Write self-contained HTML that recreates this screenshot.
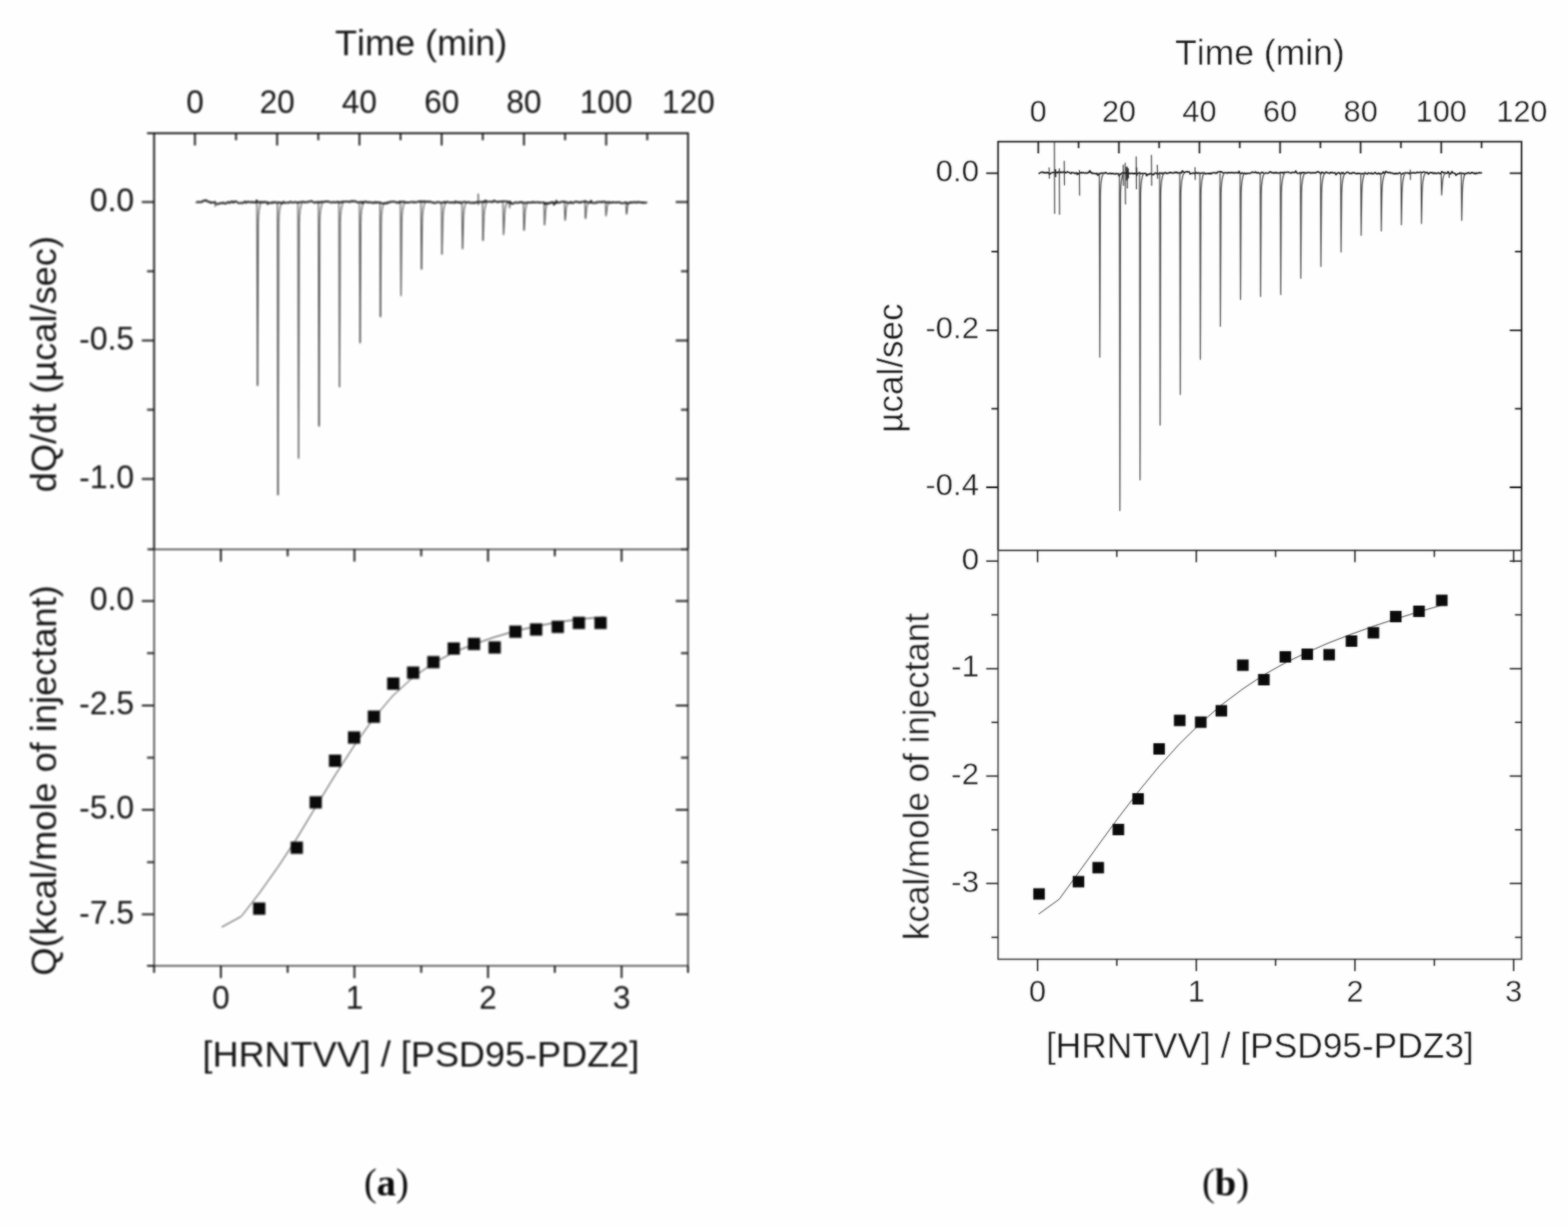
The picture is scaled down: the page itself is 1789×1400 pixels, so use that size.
<!DOCTYPE html>
<html lang="en">
<head>
<meta charset="utf-8">
<title>ITC titration of HRNTVV into PSD95-PDZ2 and PSD95-PDZ3</title>
<style>
html,body{margin:0;padding:0;background:#fff;}
body{width:1789px;height:1400px;overflow:hidden;position:relative;}
svg{display:block;position:absolute;left:0;top:0;}
svg text{font-family:"Liberation Sans",sans-serif;fill:#161616;font-kerning:none;}
#plotB text{stroke:#fefefe;stroke-width:0.45px;}
svg text.cap{font-family:"Liberation Serif",serif;fill:#0c0c0c;stroke:none;font-kerning:auto;}
</style>
</head>
<body>
<svg width="1789" height="1400" viewBox="0 0 1789 1400">
<defs>
<filter id="softB" filterUnits="userSpaceOnUse" x="940" y="0" width="849" height="1400" color-interpolation-filters="sRGB">
<feGaussianBlur in="SourceGraphic" stdDeviation="1" result="b"/>
<feComposite in="b" in2="SourceGraphic" operator="arithmetic" k1="0" k2="0.62" k3="0.38" k4="0"/>
</filter>
</defs>
<rect width="1789" height="1400" fill="#fefefe"/>
<g id="plotA" style="filter:blur(1.15px)">
<path d="M175.8 626.7V151.9H785.0V626.7" stroke="#101010" stroke-width="2.0" fill="none"/>
<path d="M175.8 626.7V1102.0H785.0V626.7M175.8 626.7H785.0" stroke="#2a2a2a" stroke-width="1.6" fill="none"/>
<path d="M222.4 151.9L222.4 165.9M269.3 151.9L269.3 159.9M316.2 151.9L316.2 165.9M363.2 151.9L363.2 159.9M410.1 151.9L410.1 165.9M457 151.9L457 159.9M503.9 151.9L503.9 165.9M550.8 151.9L550.8 159.9M597.8 151.9L597.8 165.9M644.7 151.9L644.7 159.9M691.6 151.9L691.6 165.9M738.5 151.9L738.5 159.9M167.8 151.9L175.8 151.9M161.8 230.6L175.8 230.6M771 230.6L785 230.6M167.8 309.6L175.8 309.6M777 309.6L785 309.6M161.8 388.5L175.8 388.5M771 388.5L785 388.5M167.8 467.5L175.8 467.5M777 467.5L785 467.5M161.8 546.4L175.8 546.4M771 546.4L785 546.4M168.3 626.7L175.8 626.7M777 626.7L785 626.7M252 626.7L252 640.7M252 1102L252 1116M328.2 626.7L328.2 634.7M328.2 1102L328.2 1110M404.4 626.7L404.4 640.7M404.4 1102L404.4 1116M480.6 626.7L480.6 634.7M480.6 1102L480.6 1110M556.8 626.7L556.8 640.7M556.8 1102L556.8 1116M633 626.7L633 634.7M633 1102L633 1110M709.2 626.7L709.2 640.7M709.2 1102L709.2 1116M175.8 1102L175.8 1110M785 1102L785 1110M161.8 685.7L175.8 685.7M771 685.7L785 685.7M167.8 745.3L175.8 745.3M777 745.3L785 745.3M161.8 804.9L175.8 804.9M771 804.9L785 804.9M167.8 864.5L175.8 864.5M777 864.5L785 864.5M161.8 924.1L175.8 924.1M771 924.1L785 924.1M167.8 983.7L175.8 983.7M777 983.7L785 983.7M161.8 1043.3L175.8 1043.3M771 1043.3L785 1043.3M167.8 1102L175.8 1102" stroke="#101010" stroke-width="2" fill="none"/>
<text x="222.4" y="129.3" font-size="36" text-anchor="middle">0</text>
<text x="316.2" y="129.3" font-size="36" text-anchor="middle">20</text>
<text x="410.1" y="129.3" font-size="36" text-anchor="middle">40</text>
<text x="503.9" y="129.3" font-size="36" text-anchor="middle">60</text>
<text x="597.8" y="129.3" font-size="36" text-anchor="middle">80</text>
<text x="691.6" y="129.3" font-size="36" text-anchor="middle">100</text>
<text x="785.4" y="129.3" font-size="36" text-anchor="middle">120</text>
<text x="153" y="240.9" font-size="36.4" text-anchor="end">0.0</text>
<text x="153" y="398.8" font-size="36.4" text-anchor="end">-0.5</text>
<text x="153" y="556.7" font-size="36.4" text-anchor="end">-1.0</text>
<text x="153" y="696" font-size="36.4" text-anchor="end">0.0</text>
<text x="153" y="815.2" font-size="36.4" text-anchor="end">-2.5</text>
<text x="153" y="934.4" font-size="36.4" text-anchor="end">-5.0</text>
<text x="153" y="1053.6" font-size="36.4" text-anchor="end">-7.5</text>
<text x="252" y="1151.4" font-size="36" text-anchor="middle">0</text>
<text x="404.4" y="1151.4" font-size="36" text-anchor="middle">1</text>
<text x="556.8" y="1151.4" font-size="36" text-anchor="middle">2</text>
<text x="709.2" y="1151.4" font-size="36" text-anchor="middle">3</text>
<text x="480.5" y="62.6" font-size="41.15" text-anchor="middle">Time (min)</text>
<text x="480.2" y="1216.5" font-size="41.15" text-anchor="middle">[HRNTVV] / [PSD95-PDZ2]</text>
<text x="64.2" y="415.5" font-size="41.3" text-anchor="middle" transform="rotate(-90 64.2 415.5)">dQ/dt (µcal/sec)</text>
<text x="64" y="890.5" font-size="41.3" text-anchor="middle" transform="rotate(-90 64 890.5)">Q(kcal/mole of injectant)</text>
<path d="M223.5 230.84 L224.4 230.76 L225.3 230.56 L226.2 230.04 L227.1 230.62 L228 230.87 L228.9 230.51 L229.8 229.91 L230.7 230.55 L231.6 229.40 L232.5 228.59 L233.4 229.07 L234.3 229.01 L235.2 228.29 L236.1 229.54 L237 229.59 L237.9 230.52 L238.8 230.17 L239.7 230.54 L240.6 231.61 L241.5 230.79 L242.4 231.24 L243.3 231.08 L244.2 230.77 L245.1 230.99 L246 232.01 L246.9 232.37 L247.8 232.62 L248.7 232.89 L249.6 232.76 L250.5 231.70 L251.4 231.70 L252.3 231.90 L253.2 232.09 L254.1 231.25 L255 231.18 L255.9 232.10 L256.8 232.37 L257.7 232.32 L258.6 231.25 L259.5 230.86 L260.4 230.41 L261.3 231.37 L262.2 231.65 L263.1 230.55 L264 229.90 L264.9 229.74 L265.8 231.15 L266.7 231.08 L267.6 229.93 L268.5 229.57 L269.4 230.14 L270.3 230.42 L271.2 231.10 L272.1 231.67 L273 231.88 L273.9 231.70 L274.8 231.44 L275.7 231.34 L276.6 231.93 L277.5 231.30 L278.4 231.14 L279.3 229.73 L280.2 230.68 L281.1 231.45 L282 230.52 L282.9 229.95 L283.8 230.31 L284.7 230.66 L285.6 231.01 L286.5 230.71 L287.4 230.08 L288.3 231.13 L289.2 230.81 L290.1 230.57 L291 230.97 L291.9 231.35 L292.8 228.53 L293.7 229.68 L294.6 230.59 L295.5 230.94 L296.4 231.31 L297.3 230.16 L298.2 230.30 L299.1 230.87 L300 231.14 L300.9 230.17 L301.8 231.04 L302.7 230.42 L303.6 230.31 L304.5 230.67 L305.4 232.87 L306.3 231.19 L307.2 231.38 L308.1 231.62 L309 231.45 L309.9 231.75 L310.8 230.57 L311.7 231.23 L312.6 231.27 L313.5 230.57 L314.4 230.36 L315.3 231.11 L316.2 231.79 L317.1 230.91 L318 230.82 L318.9 231.18 L319.8 230.97 L320.7 231.92 L321.6 232.44 L322.5 231.40 L323.4 229.99 L324.3 231.32 L325.2 231.61 L326.1 231.29 L327 231.15 L327.9 231.05 L328.8 231.32 L329.7 231.38 L330.6 230.30 L331.5 230.19 L332.4 230.44 L333.3 231.15 L334.2 231.27 L335.1 230.93 L336 230.83 L336.9 230.31 L337.8 230.71 L338.7 231.11 L339.6 230.97 L340.5 231.09 L341.4 231.17 L342.3 230.33 L343.2 230.59 L344.1 230.59 L345 230.38 L345.9 230.25 L346.8 230.21 L347.7 231.03 L348.6 230.97 L349.5 230.83 L350.4 230.06 L351.3 230.51 L352.2 230.56 L353.1 230.03 L354 229.61 L354.9 229.34 L355.8 229.67 L356.7 230.41 L357.6 230.34 L358.5 231.26 L359.4 231.28 L360.3 230.89 L361.2 230.29 L362.1 231.17 L363 230.86 L363.9 230.23 L364.8 230.79 L365.7 231.00 L366.6 230.11 L367.5 230.34 L368.4 230.11 L369.3 230.53 L370.2 230.33 L371.1 229.72 L372 230.17 L372.9 229.68 L373.8 229.88 L374.7 230.24 L375.6 230.08 L376.5 230.49 L377.4 230.99 L378.3 231.32 L379.2 230.77 L380.1 230.42 L381 230.49 L381.9 231.00 L382.8 231.03 L383.7 230.66 L384.6 230.15 L385.5 230.72 L386.4 230.32 L387.3 230.81 L388.2 230.92 L389.1 231.10 L390 229.99 L390.9 230.61 L391.8 230.00 L392.7 230.21 L393.6 230.06 L394.5 229.81 L395.4 230.02 L396.3 230.13 L397.2 230.27 L398.1 229.86 L399 230.71 L399.9 230.03 L400.8 229.57 L401.7 229.21 L402.6 230.16 L403.5 229.62 L404.4 229.70 L405.3 229.43 L406.2 229.98 L407.1 230.80 L408 230.59 L408.9 230.97 L409.8 230.96 L410.7 230.70 L411.6 230.18 L412.5 230.35 L413.4 232.07 L414.3 230.41 L415.2 230.85 L416.1 230.29 L417 229.75 L417.9 230.84 L418.8 230.71 L419.7 230.32 L420.6 231.31 L421.5 230.71 L422.4 230.51 L423.3 231.11 L424.2 231.13 L425.1 231.68 L426 231.02 L426.9 231.59 L427.8 230.58 L428.7 230.33 L429.6 231.52 L430.5 230.81 L431.4 230.74 L432.3 231.22 L433.2 230.98 L434.1 231.22 L435 231.68 L435.9 231.90 L436.8 232.12 L437.7 232.53 L438.6 232.20 L439.5 231.57 L440.4 232.32 L441.3 231.15 L442.2 231.83 L443.1 230.71 L444 230.58 L444.9 231.05 L445.8 230.26 L446.7 230.12 L447.6 230.16 L448.5 229.96 L449.4 230.41 L450.3 230.17 L451.2 230.43 L452.1 230.88 L453 231.42 L453.9 231.00 L454.8 231.46 L455.7 230.07 L456.6 230.76 L457.5 230.13 L458.4 229.97 L459.3 230.54 L460.2 230.47 L461.1 229.85 L462 230.99 L462.9 231.05 L463.8 230.74 L464.7 231.27 L465.6 230.93 L466.5 231.16 L467.4 230.90 L468.3 230.65 L469.2 230.27 L470.1 230.42 L471 230.29 L471.9 231.21 L472.8 230.52 L473.7 230.53 L474.6 231.00 L475.5 230.57 L476.4 230.33 L477.3 229.99 L478.2 229.53 L479.1 230.48 L480 230.07 L480.9 229.42 L481.8 230.25 L482.7 230.68 L483.6 229.75 L484.5 229.63 L485.4 229.94 L486.3 230.58 L487.2 230.09 L488.1 229.83 L489 230.68 L489.9 229.81 L490.8 230.37 L491.7 230.34 L492.6 230.69 L493.5 231.34 L494.4 230.84 L495.3 231.54 L496.2 231.63 L497.1 231.53 L498 230.61 L498.9 230.60 L499.8 230.68 L500.7 230.48 L501.6 230.97 L502.5 231.52 L503.4 231.45 L504.3 231.04 L505.2 231.12 L506.1 230.99 L507 230.21 L507.9 230.97 L508.8 231.35 L509.7 230.10 L510.6 230.48 L511.5 230.37 L512.4 231.12 L513.3 231.26 L514.2 230.88 L515.1 231.29 L516 230.77 L516.9 230.86 L517.8 231.45 L518.7 231.59 L519.6 229.59 L520.5 230.32 L521.4 231.00 L522.3 230.64 L523.2 231.26 L524.1 230.35 L525 230.89 L525.9 231.78 L526.8 231.25 L527.7 230.70 L528.6 230.38 L529.5 230.29 L530.4 230.76 L531.3 230.37 L532.2 230.78 L533.1 231.11 L534 230.83 L534.9 230.21 L535.8 231.27 L536.7 231.49 L537.6 231.64 L538.5 231.14 L539.4 230.94 L540.3 231.75 L541.2 231.61 L542.1 230.88 L543 231.40 L543.9 230.39 L544.8 230.66 L545.7 230.66 L546.6 230.97 L547.5 230.51 L548.4 230.14 L549.3 230.49 L550.2 230.86 L551.1 229.94 L552 230.20 L552.9 230.97 L553.8 228.60 L554.7 229.40 L555.6 230.45 L556.5 230.15 L557.4 230.22 L558.3 230.10 L559.2 230.20 L560.1 230.46 L561 229.88 L561.9 230.65 L562.8 230.31 L563.7 228.64 L564.6 229.45 L565.5 229.91 L566.4 229.81 L567.3 230.56 L568.2 230.78 L569.1 229.98 L570 230.17 L570.9 230.14 L571.8 229.74 L572.7 230.18 L573.6 229.63 L574.5 229.57 L575.4 229.78 L576.3 229.70 L577.2 229.57 L578.1 229.84 L579 230.19 L579.9 230.98 L580.8 230.33 L581.7 230.12 L582.6 230.44 L583.5 232.79 L584.4 232.24 L585.3 232.36 L586.2 232.10 L587.1 231.19 L588 230.67 L588.9 231.00 L589.8 231.51 L590.7 231.45 L591.6 231.28 L592.5 230.58 L593.4 230.85 L594.3 230.99 L595.2 230.20 L596.1 231.10 L597 231.33 L597.9 231.71 L598.8 231.23 L599.7 231.60 L600.6 231.42 L601.5 230.78 L602.4 231.01 L603.3 231.21 L604.2 230.97 L605.1 231.29 L606 231.10 L606.9 230.68 L607.8 231.14 L608.7 230.11 L609.6 230.85 L610.5 231.09 L611.4 231.23 L612.3 230.72 L613.2 230.65 L614.1 230.60 L615 231.31 L615.9 230.89 L616.8 231.28 L617.7 231.17 L618.6 230.98 L619.5 230.75 L620.4 231.00 L621.3 231.19 L622.2 233.07 L623.1 231.86 L624 231.54 L624.9 231.52 L625.8 232.22 L626.7 231.85 L627.6 232.17 L628.5 230.53 L629.4 231.03 L630.3 231.14 L631.2 230.56 L632.1 233.77 L633 231.56 L633.9 231.82 L634.8 228.98 L635.7 231.23 L636.6 231.27 L637.5 230.99 L638.4 231.24 L639.3 230.82 L640.2 230.42 L641.1 230.01 L642 230.28 L642.9 230.01 L643.8 229.94 L644.7 230.97 L645.6 230.62 L646.5 230.48 L647.4 231.38 L648.3 231.40 L649.2 231.72 L650.1 231.50 L651 230.29 L651.9 231.58 L652.8 231.20 L653.7 231.74 L654.6 231.38 L655.5 230.47 L656.4 230.24 L657.3 230.47 L658.2 230.23 L659.1 230.31 L660 231.06 L660.9 231.13 L661.8 230.51 L662.7 231.22 L663.6 230.32 L664.5 230.44 L665.4 230.21 L666.3 230.24 L667.2 229.59 L668.1 229.39 L669 230.75 L669.9 230.67 L670.8 230.60 L671.7 230.94 L672.6 231.36 L673.5 231.06 L674.4 228.93 L675.3 231.08 L676.2 231.62 L677.1 231.56 L678 231.66 L678.9 231.06 L679.8 231.40 L680.7 231.55 L681.6 230.21 L682.5 230.49 L683.4 230.75 L684.3 230.57 L685.2 230.15 L686.1 230.33 L687 231.07 L687.9 230.30 L688.8 229.87 L689.7 230.15 L690.6 230.32 L691.5 231.03 L692.4 231.06 L693.3 230.79 L694.2 230.38 L695.1 230.60 L696 231.51 L696.9 231.00 L697.8 231.00 L698.7 231.25 L699.6 230.53 L700.5 230.86 L701.4 230.78 L702.3 231.09 L703.2 231.01 L704.1 231.07 L705 230.71 L705.9 230.54 L706.8 230.81 L707.7 231.50 L708.6 231.45 L709.5 231.69 L710.4 231.94 L711.3 231.78 L712.2 231.41 L713.1 231.00 L714 230.65 L714.9 231.24 L715.8 232.06 L716.7 232.35 L717.6 231.43 L718.5 230.88 L719.4 230.59 L720.3 231.45 L721.2 230.79 L722.1 231.15 L723 230.78 L723.9 230.28 L724.8 230.93 L725.7 231.34 L726.6 231.26 L727.5 230.24 L728.4 230.38 L729.3 231.16 L730.2 230.69 L731.1 230.85 L732 230.80 L732.9 231.52 L733.8 230.81 L734.7 231.36 L735.6 231.48 L736.5 231.23 L737.4 231.18 L738.3 230.83" stroke="#0a0a0a" stroke-width="1.8" fill="none" stroke-linejoin="round"/>
<path d="M293.15 230.8L293.8 440.2L294.65 254.8Q294.8 236.1 298.1 230.8M316.54 230.8L317.2 565L318.04 254.8Q318.2 236.1 321.5 230.8M339.93 230.8L340.6 523.2L341.43 254.8Q341.6 236.1 344.9 230.8M363.32 230.8L364 486.5L364.82 254.8Q365 236.1 368.3 230.8M386.71 230.8L387.4 441.7L388.21 254.8Q388.4 236.1 391.7 230.8M410.10 230.8L410.8 391.4L411.60 254.8Q411.8 236.1 415.1 230.8M433.49 230.8L434.1 361.7L434.99 254.8Q435.1 236.1 438.4 230.8M456.88 230.8L457.5 337.6L458.38 254.8Q458.5 236.1 461.8 230.8M480.27 230.8L480.9 307.4L481.77 254.8Q481.9 236.1 485.2 230.8M503.66 230.8L504.3 290.3L505.16 254.8Q505.3 236.1 508.6 230.8M527.05 230.8L527.7 284.2L528.55 254.8Q528.7 236.1 532 230.8M550.44 230.8L551.1 274.7L551.94 254.8Q552.1 236.1 555.4 230.8M573.83 230.8L574.5 268.1L575.33 253.2Q575.5 235.7 578.8 230.8M597.22 230.8L597.9 263.1L598.72 250.2Q598.9 235.1 602.2 230.8M620.61 230.8L621.3 257L622.11 246.5Q622.3 234.3 625.6 230.8M644.00 230.8L644.7 251.5L645.50 243.2Q645.7 233.5 649 230.8M667.39 230.8L668 249.5L668.89 242Q669 233.3 672.3 230.8M690.78 230.8L691.4 246.5L692.28 240.2Q692.4 232.9 695.7 230.8M714.17 230.8L714.8 244.5L715.67 239Q715.8 232.6 719.1 230.8" stroke="#1a1a1a" stroke-width="0.95" fill="none" stroke-linejoin="round"/>
<path d="M545.6 221L545.8 234M581.3 229L581.5 237.5M245.5 229L245.7 236" stroke="#1a1a1a" stroke-width="1.1" fill="none"/>
<path d="M253 1057.8 L275.2 1045.7 L296 1019 L318 988 L339 956 L360 921 L382 885 L404 851 L426 820 L448 794 L471 773 L494 757 L518 744 L541 735 L564 727 L588 720 L612 714.5 L636 710 L661 706.5 L689 704" stroke="#222" stroke-width="1.0" fill="none" stroke-linejoin="round"/>
<path d="M288.8 1029.7h14v14h-14zM331.6 960.2h14v14h-14zM353.2 908.4h14v14h-14zM375.3 861.1h14v14h-14zM397 834.5h14v14h-14zM419.6 810.8h14v14h-14zM441.7 773.1h14v14h-14zM464.4 760.5h14v14h-14zM487.5 748.4h14v14h-14zM510.7 732.9h14v14h-14zM533.8 727.8h14v14h-14zM557.4 731.8h14v14h-14zM581.1 713.7h14v14h-14zM604.7 711.2h14v14h-14zM629.4 708.2h14v14h-14zM653.5 703.7h14v14h-14zM678.2 703.7h14v14h-14z" fill="#0a0a0a"/>
</g>
<g id="plotB" filter="url(#softB)">
<path d="M1138.7 628.0V161.5H1736.0V628.0" stroke="#101010" stroke-width="1.75" fill="none"/>
<path d="M1138.7 628.0V1094.5H1736.0V628.0" stroke="#303030" stroke-width="1.5" fill="none"/>
<path d="M1138.7 628.0H1736.0" stroke="#505050" stroke-width="2.2" fill="none"/>
<path d="M1184.6 161.5L1184.6 175M1230.6 161.5L1230.6 169M1276.6 161.5L1276.6 175M1322.5 161.5L1322.5 169M1368.5 161.5L1368.5 175M1414.5 161.5L1414.5 169M1460.5 161.5L1460.5 175M1506.5 161.5L1506.5 169M1552.4 161.5L1552.4 175M1598.4 161.5L1598.4 169M1644.4 161.5L1644.4 175M1690.4 161.5L1690.4 169M1125.2 197.6L1138.7 197.6M1722.5 197.6L1736 197.6M1131.2 287.2L1138.7 287.2M1728.5 287.2L1736 287.2M1125.2 376.8L1138.7 376.8M1722.5 376.8L1736 376.8M1131.2 466.4L1138.7 466.4M1728.5 466.4L1736 466.4M1125.2 556L1138.7 556M1722.5 556L1736 556" stroke="#101010" stroke-width="1.8" fill="none"/>
<path d="M1183.8 628L1183.8 641.5M1183.8 1094.5L1183.8 1108M1274.3 628L1274.3 635.5M1274.3 1094.5L1274.3 1102M1364.9 628L1364.9 641.5M1364.9 1094.5L1364.9 1108M1455.4 628L1455.4 635.5M1455.4 1094.5L1455.4 1102M1545.9 628L1545.9 641.5M1545.9 1094.5L1545.9 1108M1636.5 628L1636.5 635.5M1636.5 1094.5L1636.5 1102M1727 628L1727 641.5M1727 1094.5L1727 1108M1125.2 640.3L1138.7 640.3M1722.5 640.3L1736 640.3M1131.2 701.6L1138.7 701.6M1728.5 701.6L1736 701.6M1125.2 762.9L1138.7 762.9M1722.5 762.9L1736 762.9M1131.2 824.2L1138.7 824.2M1728.5 824.2L1736 824.2M1125.2 885.5L1138.7 885.5M1722.5 885.5L1736 885.5M1131.2 946.8L1138.7 946.8M1728.5 946.8L1736 946.8M1125.2 1008.1L1138.7 1008.1M1722.5 1008.1L1736 1008.1M1131.2 1069.4L1138.7 1069.4M1728.5 1069.4L1736 1069.4" stroke="#101010" stroke-width="1.5" fill="none"/>
<text x="1184.6" y="138.8" font-size="35" text-anchor="middle">0</text>
<text x="1276.6" y="138.8" font-size="35" text-anchor="middle">20</text>
<text x="1368.5" y="138.8" font-size="35" text-anchor="middle">40</text>
<text x="1460.5" y="138.8" font-size="35" text-anchor="middle">60</text>
<text x="1552.4" y="138.8" font-size="35" text-anchor="middle">80</text>
<text x="1644.4" y="138.8" font-size="35" text-anchor="middle">100</text>
<text x="1736.4" y="138.8" font-size="35" text-anchor="middle">120</text>
<text x="1117" y="207" font-size="35.6" text-anchor="end">0.0</text>
<text x="1117" y="386.2" font-size="35.6" text-anchor="end">-0.2</text>
<text x="1117" y="565.4" font-size="35.6" text-anchor="end">-0.4</text>
<text x="1117" y="649.7" font-size="35.6" text-anchor="end">0</text>
<text x="1117" y="772.3" font-size="35.6" text-anchor="end">-1</text>
<text x="1117" y="894.9" font-size="35.6" text-anchor="end">-2</text>
<text x="1117" y="1017.5" font-size="35.6" text-anchor="end">-3</text>
<text x="1183.8" y="1143" font-size="35" text-anchor="middle">0</text>
<text x="1364.9" y="1143" font-size="35" text-anchor="middle">1</text>
<text x="1545.9" y="1143" font-size="35" text-anchor="middle">2</text>
<text x="1727" y="1143" font-size="35" text-anchor="middle">3</text>
<text x="1437.5" y="74.3" font-size="40.5" text-anchor="middle">Time (min)</text>
<text x="1437.5" y="1206.8" font-size="40.3" text-anchor="middle">[HRNTVV] / [PSD95-PDZ3]</text>
<text x="1030" y="420" font-size="40" text-anchor="middle" transform="rotate(-90 1030 420)">µcal/sec</text>
<text x="1059.7" y="886" font-size="40" text-anchor="middle" transform="rotate(-90 1059.7 886)">kcal/mole of injectant</text>
<path d="M1185 198.29 L1185.9 197.76 L1186.8 196.98 L1187.7 196.81 L1188.6 196.32 L1189.5 196.85 L1190.4 196.31 L1191.3 197.11 L1192.2 197.17 L1193.1 197.36 L1194 196.63 L1194.9 197.28 L1195.8 196.93 L1196.7 197.64 L1197.6 198.78 L1198.5 197.77 L1199.4 197.59 L1200.3 196.96 L1201.2 196.66 L1202.1 196.84 L1203 196.69 L1203.9 196.47 L1204.8 196.53 L1205.7 196.43 L1206.6 197.35 L1207.5 196.18 L1208.4 195.91 L1209.3 196.94 L1210.2 196.22 L1211.1 197.00 L1212 196.25 L1212.9 196.81 L1213.8 196.20 L1214.7 196.04 L1215.6 197.17 L1216.5 196.79 L1217.4 196.37 L1218.3 196.11 L1219.2 196.68 L1220.1 196.80 L1221 197.44 L1221.9 198.06 L1222.8 196.71 L1223.7 196.97 L1224.6 197.16 L1225.5 197.21 L1226.4 198.05 L1227.3 197.48 L1228.2 197.14 L1229.1 199.07 L1230 197.75 L1230.9 198.18 L1231.8 197.50 L1232.7 197.48 L1233.6 196.67 L1234.5 197.46 L1235.4 197.01 L1236.3 196.95 L1237.2 197.43 L1238.1 197.58 L1239 197.16 L1239.9 197.63 L1240.8 197.32 L1241.7 196.59 L1242.6 196.60 L1243.5 194.68 L1244.4 197.02 L1245.3 196.74 L1246.2 197.91 L1247.1 197.48 L1248 197.77 L1248.9 197.80 L1249.8 198.26 L1250.7 198.49 L1251.6 197.69 L1252.5 199.90 L1253.4 198.76 L1254.3 197.96 L1255.2 197.89 L1256.1 197.86 L1257 197.40 L1257.9 197.37 L1258.8 197.92 L1259.7 197.28 L1260.6 197.72 L1261.5 196.76 L1262.4 197.41 L1263.3 197.92 L1264.2 198.27 L1265.1 198.29 L1266 197.74 L1266.9 197.64 L1267.8 198.32 L1268.7 197.79 L1269.6 198.25 L1270.5 198.06 L1271.4 198.58 L1272.3 198.29 L1273.2 198.37 L1274.1 198.12 L1275 198.20 L1275.9 198.40 L1276.8 200.83 L1277.7 198.85 L1278.6 198.88 L1279.5 197.85 L1280.4 197.33 L1281.3 197.13 L1282.2 197.07 L1283.1 197.76 L1284 197.76 L1284.9 197.16 L1285.8 197.51 L1286.7 197.60 L1287.6 197.20 L1288.5 197.95 L1289.4 198.28 L1290.3 197.82 L1291.2 197.55 L1292.1 197.73 L1293 198.38 L1293.9 197.75 L1294.8 198.28 L1295.7 197.70 L1296.6 197.43 L1297.5 198.42 L1298.4 197.92 L1299.3 197.43 L1300.2 196.93 L1301.1 198.14 L1302 197.94 L1302.9 197.88 L1303.8 197.73 L1304.7 198.32 L1305.6 197.77 L1306.5 197.75 L1307.4 198.10 L1308.3 200.57 L1309.2 198.99 L1310.1 198.90 L1311 198.84 L1311.9 198.09 L1312.8 198.23 L1313.7 198.70 L1314.6 198.42 L1315.5 199.45 L1316.4 198.99 L1317.3 197.66 L1318.2 197.30 L1319.1 197.66 L1320 198.22 L1320.9 198.36 L1321.8 198.45 L1322.7 197.22 L1323.6 197.56 L1324.5 197.59 L1325.4 197.42 L1326.3 198.24 L1327.2 197.33 L1328.1 198.00 L1329 197.05 L1329.9 196.91 L1330.8 197.98 L1331.7 197.61 L1332.6 197.64 L1333.5 197.48 L1334.4 196.67 L1335.3 197.24 L1336.2 196.78 L1337.1 197.43 L1338 197.37 L1338.9 197.45 L1339.8 196.98 L1340.7 196.31 L1341.6 197.06 L1342.5 196.35 L1343.4 197.52 L1344.3 197.33 L1345.2 197.36 L1346.1 197.00 L1347 197.39 L1347.9 197.44 L1348.8 194.96 L1349.7 195.54 L1350.6 196.33 L1351.5 197.02 L1352.4 196.41 L1353.3 195.95 L1354.2 195.70 L1355.1 196.34 L1356 196.07 L1356.9 195.97 L1357.8 198.54 L1358.7 197.91 L1359.6 197.68 L1360.5 197.71 L1361.4 197.26 L1362.3 197.90 L1363.2 197.84 L1364.1 197.83 L1365 196.86 L1365.9 197.31 L1366.8 197.90 L1367.7 197.18 L1368.6 197.52 L1369.5 197.58 L1370.4 197.79 L1371.3 197.38 L1372.2 197.35 L1373.1 197.77 L1374 197.12 L1374.9 197.94 L1375.8 198.51 L1376.7 197.97 L1377.6 197.96 L1378.5 197.63 L1379.4 198.26 L1380.3 197.57 L1381.2 198.39 L1382.1 197.38 L1383 197.85 L1383.9 197.24 L1384.8 197.03 L1385.7 196.94 L1386.6 197.65 L1387.5 197.33 L1388.4 197.63 L1389.3 196.33 L1390.2 196.00 L1391.1 196.00 L1392 196.14 L1392.9 195.87 L1393.8 196.17 L1394.7 196.78 L1395.6 197.32 L1396.5 197.33 L1397.4 196.97 L1398.3 197.00 L1399.2 197.38 L1400.1 197.61 L1401 196.88 L1401.9 196.77 L1402.8 197.38 L1403.7 197.00 L1404.6 197.31 L1405.5 196.62 L1406.4 197.20 L1407.3 196.96 L1408.2 197.59 L1409.1 197.12 L1410 196.72 L1410.9 197.18 L1411.8 197.19 L1412.7 197.34 L1413.6 195.44 L1414.5 197.28 L1415.4 197.79 L1416.3 197.84 L1417.2 197.16 L1418.1 197.83 L1419 198.07 L1419.9 197.32 L1420.8 198.15 L1421.7 198.37 L1422.6 197.52 L1423.5 197.88 L1424.4 197.75 L1425.3 197.47 L1426.2 197.77 L1427.1 197.44 L1428 196.77 L1428.9 196.29 L1429.8 196.77 L1430.7 196.82 L1431.6 196.85 L1432.5 195.99 L1433.4 196.93 L1434.3 197.50 L1435.2 196.83 L1436.1 197.21 L1437 197.88 L1437.9 197.99 L1438.8 197.06 L1439.7 196.75 L1440.6 196.47 L1441.5 197.55 L1442.4 197.81 L1443.3 197.45 L1444.2 197.21 L1445.1 197.44 L1446 197.43 L1446.9 197.61 L1447.8 197.10 L1448.7 196.10 L1449.6 195.96 L1450.5 196.91 L1451.4 196.69 L1452.3 197.32 L1453.2 197.67 L1454.1 196.94 L1455 197.47 L1455.9 196.69 L1456.8 197.44 L1457.7 197.35 L1458.6 197.60 L1459.5 197.57 L1460.4 196.88 L1461.3 196.89 L1462.2 196.92 L1463.1 196.80 L1464 197.69 L1464.9 196.80 L1465.8 196.39 L1466.7 196.70 L1467.6 196.79 L1468.5 196.42 L1469.4 196.26 L1470.3 196.42 L1471.2 197.00 L1472.1 197.22 L1473 197.65 L1473.9 196.93 L1474.8 196.60 L1475.7 196.82 L1476.6 196.92 L1477.5 196.72 L1478.4 195.05 L1479.3 196.84 L1480.2 197.67 L1481.1 197.73 L1482 197.80 L1482.9 197.16 L1483.8 197.07 L1484.7 197.82 L1485.6 196.90 L1486.5 197.09 L1487.4 196.88 L1488.3 197.14 L1489.2 197.10 L1490.1 197.73 L1491 197.02 L1491.9 197.18 L1492.8 196.66 L1493.7 196.78 L1494.6 197.03 L1495.5 197.71 L1496.4 197.18 L1497.3 197.07 L1498.2 197.39 L1499.1 197.12 L1500 197.30 L1500.9 197.38 L1501.8 196.55 L1502.7 196.40 L1503.6 196.04 L1504.5 196.15 L1505.4 197.01 L1506.3 197.41 L1507.2 198.14 L1508.1 196.44 L1509 196.78 L1509.9 197.34 L1510.8 197.63 L1511.7 197.67 L1512.6 196.56 L1513.5 196.30 L1514.4 197.02 L1515.3 197.44 L1516.2 197.40 L1517.1 197.81 L1518 196.65 L1518.9 197.15 L1519.8 196.54 L1520.7 197.20 L1521.6 197.45 L1522.5 197.12 L1523.4 197.27 L1524.3 199.32 L1525.2 198.24 L1526.1 197.44 L1527 197.05 L1527.9 196.96 L1528.8 198.22 L1529.7 198.01 L1530.6 197.02 L1531.5 197.89 L1532.4 196.92 L1533.3 197.96 L1534.2 198.43 L1535.1 197.84 L1536 197.02 L1536.9 196.46 L1537.8 196.53 L1538.7 197.05 L1539.6 197.94 L1540.5 197.84 L1541.4 197.49 L1542.3 198.06 L1543.2 197.13 L1544.1 197.15 L1545 196.92 L1545.9 197.73 L1546.8 198.00 L1547.7 198.34 L1548.6 197.51 L1549.5 198.17 L1550.4 197.75 L1551.3 197.73 L1552.2 198.42 L1553.1 198.30 L1554 198.03 L1554.9 198.40 L1555.8 198.07 L1556.7 197.64 L1557.6 197.03 L1558.5 198.04 L1559.4 198.20 L1560.3 198.64 L1561.2 197.11 L1562.1 197.54 L1563 197.77 L1563.9 198.05 L1564.8 197.22 L1565.7 198.36 L1566.6 198.20 L1567.5 198.12 L1568.4 196.87 L1569.3 196.91 L1570.2 197.92 L1571.1 198.48 L1572 198.20 L1572.9 197.45 L1573.8 198.52 L1574.7 198.05 L1575.6 198.42 L1576.5 197.92 L1577.4 197.68 L1578.3 196.11 L1579.2 197.61 L1580.1 197.77 L1581 195.51 L1581.9 196.44 L1582.8 196.34 L1583.7 196.97 L1584.6 196.99 L1585.5 196.53 L1586.4 197.36 L1587.3 197.36 L1588.2 197.56 L1589.1 197.46 L1590 198.39 L1590.9 197.97 L1591.8 198.46 L1592.7 197.55 L1593.6 198.25 L1594.5 198.36 L1595.4 197.52 L1596.3 197.37 L1597.2 197.15 L1598.1 198.04 L1599 198.72 L1599.9 198.40 L1600.8 197.71 L1601.7 197.64 L1602.6 197.45 L1603.5 197.17 L1604.4 197.18 L1605.3 197.48 L1606.2 197.35 L1607.1 197.42 L1608 198.06 L1608.9 197.28 L1609.8 197.75 L1610.7 197.18 L1611.6 197.26 L1612.5 197.34 L1613.4 196.91 L1614.3 197.55 L1615.2 197.52 L1616.1 197.01 L1617 196.43 L1617.9 196.89 L1618.8 196.72 L1619.7 196.77 L1620.6 196.38 L1621.5 196.88 L1622.4 197.03 L1623.3 196.57 L1624.2 196.31 L1625.1 196.32 L1626 196.64 L1626.9 196.99 L1627.8 196.63 L1628.7 196.94 L1629.6 198.68 L1630.5 197.88 L1631.4 197.10 L1632.3 196.83 L1633.2 197.16 L1634.1 197.09 L1635 197.87 L1635.9 197.12 L1636.8 197.97 L1637.7 197.38 L1638.6 197.91 L1639.5 197.98 L1640.4 197.28 L1641.3 197.11 L1642.2 197.96 L1643.1 197.89 L1644 198.18 L1644.9 195.80 L1645.8 196.48 L1646.7 196.65 L1647.6 197.51 L1648.5 197.17 L1649.4 197.19 L1650.3 197.79 L1651.2 197.45 L1652.1 195.86 L1653 197.32 L1653.9 197.97 L1654.8 198.56 L1655.7 197.53 L1656.6 195.56 L1657.5 197.54 L1658.4 197.51 L1659.3 197.43 L1660.2 197.86 L1661.1 200.02 L1662 199.43 L1662.9 198.29 L1663.8 198.29 L1664.7 198.32 L1665.6 197.20 L1666.5 197.94 L1667.4 197.46 L1668.3 197.81 L1669.2 197.60 L1670.1 198.16 L1671 199.27 L1671.9 197.60 L1672.8 198.04 L1673.7 197.49 L1674.6 197.64 L1675.5 196.95 L1676.4 197.80 L1677.3 198.00 L1678.2 197.51 L1679.1 196.72 L1680 197.34 L1680.9 197.14 L1681.8 198.05 L1682.7 197.58 L1683.6 198.41 L1684.5 197.38 L1685.4 197.51 L1686.3 197.80 L1687.2 197.15 L1688.1 197.04 L1689 197.47 L1689.9 197.32 L1690.8 196.77" stroke="#0a0a0a" stroke-width="1.6" fill="none" stroke-linejoin="round"/>
<path d="M1254.30 197.4L1254.8 407.5L1255.50 221.4Q1255.8 202.7 1259.1 197.4M1277.24 197.4L1277.7 582.5L1278.44 221.4Q1278.7 202.7 1282 197.4M1300.18 197.4L1300.7 547.5L1301.38 221.4Q1301.7 202.7 1305 197.4M1323.12 197.4L1323.6 485L1324.32 221.4Q1324.6 202.7 1327.9 197.4M1346.06 197.4L1346.6 450L1347.26 221.4Q1347.6 202.7 1350.9 197.4M1369.00 197.4L1369.5 410L1370.20 221.4Q1370.5 202.7 1373.8 197.4M1391.94 197.4L1392.4 372.3L1393.14 221.4Q1393.4 202.7 1396.7 197.4M1414.88 197.4L1415.4 341.7L1416.08 221.4Q1416.4 202.7 1419.7 197.4M1437.82 197.4L1438.3 338.3L1439.02 221.4Q1439.3 202.7 1442.6 197.4M1460.76 197.4L1461.3 336L1461.96 221.4Q1462.3 202.7 1465.6 197.4M1483.70 197.4L1484.2 317.5L1484.90 221.4Q1485.2 202.7 1488.5 197.4M1506.64 197.4L1507.1 304L1507.84 221.4Q1508.1 202.7 1511.4 197.4M1529.58 197.4L1530.1 287.5L1530.78 221.4Q1531.1 202.7 1534.4 197.4M1552.52 197.4L1553 268.5L1553.72 221.4Q1554 202.7 1557.3 197.4M1575.46 197.4L1576 263.5L1576.66 221.4Q1577 202.7 1580.3 197.4M1598.40 197.4L1598.9 256.5L1599.60 221.4Q1599.9 202.7 1603.2 197.4M1621.34 197.4L1621.8 255L1622.54 221.4Q1622.8 202.7 1626.1 197.4M1644.28 197.4L1644.8 222.5L1645.48 212.5Q1645.8 200.7 1649.1 197.4M1667.22 197.4L1667.7 251.5L1668.42 221.4Q1668.7 202.7 1672 197.4" stroke="#484848" stroke-width="1.25" fill="none" stroke-linejoin="round"/>
<path d="M1203 161.5L1203.3 243.9M1208.6 192L1208.9 245M1214.2 183.5L1214.5 211.5M1231.5 194L1231.8 223.2M1281.5 188L1281.8 212M1283.8 185.8L1284.1 233.3M1286 190L1286.3 215M1296.3 178.5L1296.6 216M1313.7 176.8L1314 212M1320.4 188L1320.7 204M1363.4 190.8L1363.7 205.3M1197 191L1197.3 204M1609 193.5L1609.3 205.2M1653.2 196L1653.5 203" stroke="#2a2a2a" stroke-width="1.1" fill="none"/>
<path d="M1285.2 190.5L1285.6 206M1287 192L1287.3 203.5M1296.6 191L1296.9 201M1204.2 193L1204.5 202" stroke="#222" stroke-width="1.6" fill="none"/>
<path d="M1185 1043 L1208.5 1026 L1231 995 L1253 964.5 L1276 933 L1299 903 L1322 875 L1346 848.5 L1370 825 L1394 804 L1418 786 L1442 770 L1466 756.5 L1491 744.5 L1516 733.5 L1542 723.5 L1567 714.5 L1593 706 L1619 698 L1645 690.5" stroke="#222" stroke-width="0.9" fill="none" stroke-linejoin="round"/>
<path d="M1178.9 1013.4h13.2v13.2h-13.2zM1223.9 999.4h13.2v13.2h-13.2zM1246.4 983.4h13.2v13.2h-13.2zM1269.4 939.9h13.2v13.2h-13.2zM1291.9 904.9h13.2v13.2h-13.2zM1315.9 847.9h13.2v13.2h-13.2zM1339.4 815.4h13.2v13.2h-13.2zM1363.4 817.4h13.2v13.2h-13.2zM1386.9 804.4h13.2v13.2h-13.2zM1411.4 752.4h13.2v13.2h-13.2zM1435.4 768.9h13.2v13.2h-13.2zM1459.9 742.9h13.2v13.2h-13.2zM1484.9 739.9h13.2v13.2h-13.2zM1509.9 740.4h13.2v13.2h-13.2zM1535.4 724.9h13.2v13.2h-13.2zM1560.4 715.4h13.2v13.2h-13.2zM1585.9 696.9h13.2v13.2h-13.2zM1612.4 690.9h13.2v13.2h-13.2zM1638.4 678.4h13.2v13.2h-13.2z" fill="#0a0a0a"/>
</g>
<g id="captions" style="filter:blur(0.9px)">
<text class="cap" x="440.8" y="1364.4" font-size="44" text-anchor="middle">(<tspan font-weight="bold">a</tspan>)</text>
<text class="cap" x="1398.3" y="1364.4" font-size="44" text-anchor="middle">(<tspan font-weight="bold">b</tspan>)</text>
</g>
</svg>
</body>
</html>
